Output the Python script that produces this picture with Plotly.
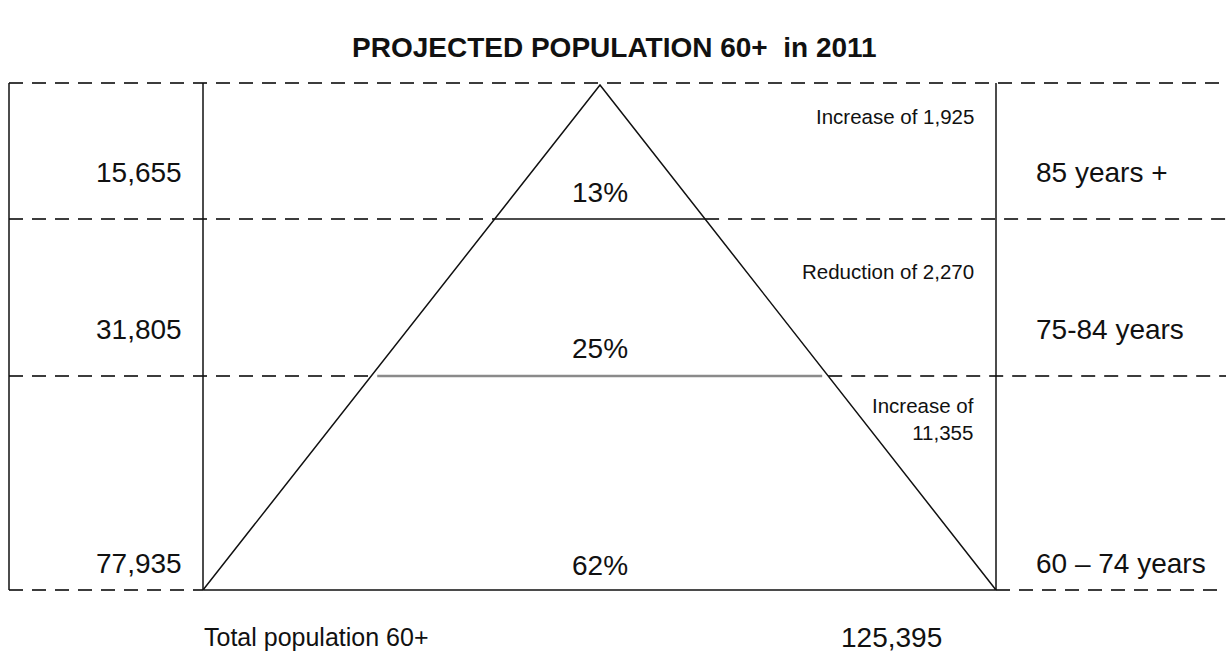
import plotly.graph_objects as go

# ---- data -------------------------------------------------------------
age_groups = ["85 years +", "75-84 years", "60 \u2013 74 years"]
populations = [15655, 31805, 77935]
shares_pct = [13, 25, 62]
change_labels = ["Increase of 1,925", "Reduction of 2,270", "Increase of<br>11,355"]
total_label = "Total population 60+"
total_population = 125395
title_text = "PROJECTED POPULATION 60+\u00a0 in 2011"

# ---- layout geometry (page pixels) -------------------------------------
W, H = 1226, 654
band_edges = [83, 219, 376, 590]          # top, between bands, bottom
frame_left, tri_left, tri_right, apex_x = 9, 203, 996, 600
num_y = [172, 329, 563]
pct_y = [192, 348, 565]
chg_y = [116, 271, 419]

FONT = "Liberation Sans, Arial, sans-serif"
DASH = dict(color="#3c3c3c", width=2, dash="14px,9px")
SOLID = dict(color="#111111", width=1.5)


def edge_x(y, side):
    """x of the triangle's left/right edge at height y."""
    top, base = band_edges[0] + 2, band_edges[-1]
    t = (base - y) / (base - top)
    if side == "left":
        return tri_left + (apex_x - tri_left) * t
    return tri_right - (tri_right - apex_x) * t


fig = go.Figure()


def seg(xs, ys, line):
    fig.add_trace(go.Scatter(x=xs, y=ys, mode="lines", line=line,
                             hoverinfo="skip", showlegend=False))


# dashed guide lines
seg([frame_left, W], [band_edges[0]] * 2, DASH)
for y in band_edges[1:3]:
    seg([frame_left, edge_x(y, "left")], [y, y], DASH)
    seg([edge_x(y, "right"), W], [y, y], DASH)
seg([frame_left, tri_left], [band_edges[-1]] * 2, DASH)
seg([tri_right, W], [band_edges[-1]] * 2, DASH)

# frame verticals
for x in (frame_left, tri_left, tri_right):
    seg([x, x], [band_edges[0], band_edges[-1]], SOLID)

# triangle
seg([tri_left, apex_x, tri_right, tri_left],
    [band_edges[-1], band_edges[0] + 2, band_edges[-1], band_edges[-1]], SOLID)

# band dividers inside the triangle
y1 = band_edges[1]
seg([edge_x(y1, "left"), edge_x(y1, "right")], [y1, y1], SOLID)
y2 = band_edges[2]
seg([edge_x(y2, "left") + 6, edge_x(y2, "right") - 6], [y2, y2],
    dict(color="#8a8a8a", width=2.5))

# ---- text -------------------------------------------------------------
ann = []


def txt(x, y, s, size, xanchor="center", bold=False, align="center"):
    ann.append(dict(x=x, y=y, xref="x", yref="y", text=f"<b>{s}</b>" if bold else s,
                    showarrow=False, xanchor=xanchor, yanchor="middle", align=align,
                    font=dict(family=FONT, size=size, color="#111111")))


txt(614, 47, title_text, 28, bold=True)
for i in range(3):
    txt(184, num_y[i], f"{populations[i]:,}", 28, xanchor="right")
    txt(1034, num_y[i], age_groups[i], 28, xanchor="left")
    txt(apex_x, pct_y[i], f"{shares_pct[i]}%", 28)
    txt(976, chg_y[i], change_labels[i], 20.5, xanchor="right", align="right")

txt(316, 637, total_label, 25)
txt(891, 637, f"{total_population:,}", 28)

fig.update_layout(
    width=W, height=H, margin=dict(l=0, r=0, t=0, b=0),
    paper_bgcolor="white", plot_bgcolor="white",
    xaxis=dict(range=[0, W], visible=False, fixedrange=True),
    yaxis=dict(range=[H, 0], visible=False, fixedrange=True),
    annotations=ann,
)

fig.write_html("out.html", config={"displayModeBar": False})
